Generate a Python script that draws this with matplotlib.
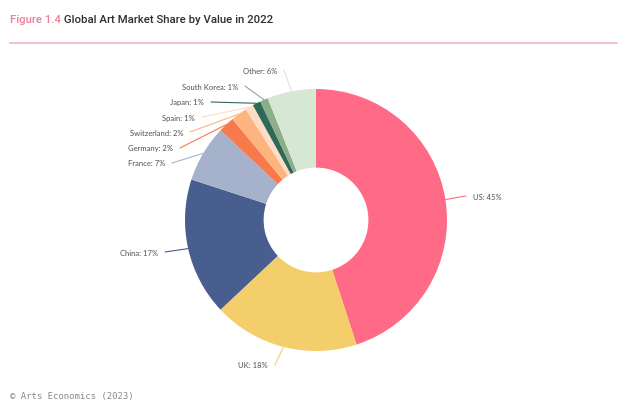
import numpy as np
import matplotlib
matplotlib.use("Agg")
import matplotlib.pyplot as plt

# data
countries = ["US", "UK", "China", "France", "Germany", "Switzerland",
             "Spain", "Japan", "South Korea", "Other"]
shares = [45, 18, 17, 7, 2, 2, 1, 1, 1, 6]
colors = ["#FF6B87", "#F4CE6A", "#475E8F", "#A6B2CB", "#F77A4C",
          "#FDB47E", "#FDDDC6", "#2F6A59", "#8CAE88", "#D6E8D3"]

# label text anchors in pixel coords (image style, y down) + alignment
label_pos = {
    "US": (473, 197, "left"),
    "UK": (268, 366, "right"),
    "China": (158, 253, "right"),
    "France": (165, 164, "right"),
    "Germany": (173, 149, "right"),
    "Switzerland": (183, 133, "right"),
    "Spain": (195, 118, "right"),
    "Japan": (204, 103, "right"),
    "South Korea": (238, 87, "right"),
    "Other": (277, 71, "right"),
}

W, H = 630, 416
fig = plt.figure(figsize=(W / 100, H / 100), dpi=100)
fig.patch.set_facecolor("white")
ax = fig.add_axes([0, 0, 1, 1])
ax.set_xlim(0, W)
ax.set_ylim(0, H)
ax.set_aspect("equal")
ax.axis("off")

cx, cy, R = 316, H - 220, 131
wedges, _ = ax.pie(shares, colors=colors, startangle=90, counterclock=False,
                   radius=R, center=(cx, cy),
                   wedgeprops=dict(width=R * 0.6, edgecolor="none"))
ax.set_xlim(0, W)
ax.set_ylim(0, H)

for w, name, val, col in zip(wedges, countries, shares, colors):
    mid = np.deg2rad((w.theta1 + w.theta2) / 2)
    px, py = cx + R * np.cos(mid), cy + R * np.sin(mid)
    tx, ty, ha = label_pos[name]
    ty = H - ty
    if ha == "left":
        lx = tx - 7
    else:
        lx = tx + 7
    ax.plot([px, lx], [py, ty + 1], color=col, lw=0.8, solid_capstyle="round")
    ax.text(tx, ty, f"{name}: {val}%", ha=ha, va="center", fontsize=5.5,
            family="Lato", color="#505050")

# title
t1 = fig.text(10 / W, 1 - 20 / H, "Figure 1.4", fontsize=8.2, family="Roboto",
              fontweight="medium", color="#EC7F98", va="center", ha="left")
ax.annotate(" Global Art Market Share by Value in 2022", xy=(1, 0),
            xycoords=t1, va="bottom", ha="left", fontsize=8.2, family="Roboto",
            fontweight="medium", color="#2E2E2E")
ax.plot([10, 617], [H - 43, H - 43], color="#F0AFBE", lw=1.1)

fig.text(10 / W, 1 - 397 / H, "\u00a9 Arts Economics (2023)", fontsize=6.5,
         family="DejaVu Sans Mono", color="#8A8A8A", va="center", ha="left")

fig.savefig("out.png", dpi=100)
